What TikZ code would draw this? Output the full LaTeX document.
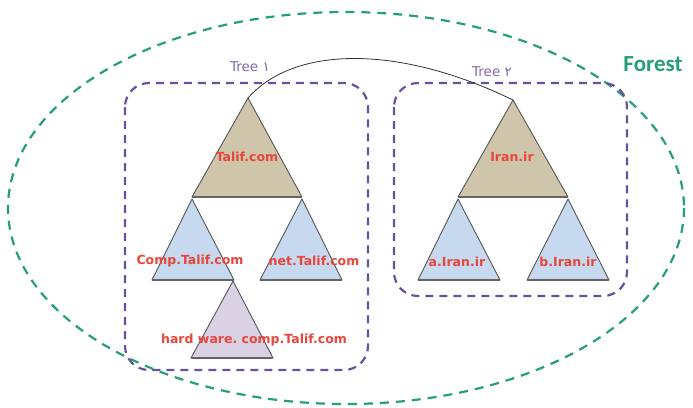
\documentclass[tikz,border=0pt]{standalone}
\usepackage{fontspec}
\setmainfont{Carlito}
\newfontfamily\dejavu{DejaVu Sans}
\frenchspacing
\definecolor{forestgreen}{RGB}{38,160,115}
\definecolor{boxpurple}{RGB}{105,80,160}
\definecolor{tanfill}{RGB}{206,197,170}
\definecolor{bluefill}{RGB}{198,217,238}
\definecolor{lavfill}{RGB}{218,210,228}
\definecolor{labred}{RGB}{232,70,58}
\definecolor{edgegray}{RGB}{85,85,85}
\definecolor{basegray}{RGB}{100,100,100}
\begin{document}
\begin{tikzpicture}[x=1pt,y=-1pt,
  forestline/.style={draw=forestgreen,line width=2.2pt,dash pattern=on 9pt off 7pt},
  treebox/.style={draw=boxpurple,line width=2.2pt,dash pattern=on 8pt off 6pt,rounded corners=24pt},
  tri/.style={draw=edgegray,line width=0.9pt,line join=round},
  basel/.style={draw=basegray,line width=2pt},
  lab/.style={text=labred,font=\dejavu\bfseries\fontsize{12.5}{13}\selectfont,inner sep=0pt},
  treelab/.style={text=boxpurple!85,font=\dejavu\fontsize{13.5}{14}\selectfont,inner sep=0pt}]
\useasboundingbox (0,0) rectangle (693,407);
\fill[white] (0,0) rectangle (693,407);
% forest ellipse
\draw[forestline] (346,208) ellipse [x radius=338,y radius=196];
\node[text=forestgreen,font=\bfseries\fontsize{23}{24}\selectfont,inner sep=0pt] (forest) at (653,64) {Forest};
% tree boxes
\draw[treebox] (125,83) rectangle (368,370);
\draw[treebox] (394,83) rectangle (627,296);
\node[treelab] (t1) at (250,67) {Tree ۱};
\node[treelab] (t2) at (492,72) {Tree ۲};
% apex coordinates
\coordinate (a1) at (248,98);
\coordinate (a2) at (513,100);
% Tree 1
\filldraw[tri,fill=tanfill] (a1) -- (302,197) -- (192,197) -- cycle;
\draw[basel] (192,197) -- (302,197);
\filldraw[tri,fill=bluefill] (192,199) -- (234,280) -- (152,280) -- cycle;
\draw[basel] (152,280) -- (234,280);
\filldraw[tri,fill=bluefill] (302,199) -- (342,280) -- (260,280) -- cycle;
\draw[basel] (260,280) -- (342,280);
\filldraw[tri,fill=lavfill] (233,281) -- (273,358) -- (191,358) -- cycle;
\draw[basel] (191,358) -- (273,358);
\node[lab] (n1) at (247,157) {Talif.com};
\node[lab] (n2) at (190,261) {Comp.Talif.com};
\node[lab] (n3) at (314,261) {net.Talif.com};
\node[lab] (n4) at (254,340) {hard ware. comp.Talif.com};
% Tree 2
\filldraw[tri,fill=tanfill] (a2) -- (568,197) -- (458,197) -- cycle;
\draw[basel] (458,197) -- (568,197);
\filldraw[tri,fill=bluefill] (458,199) -- (500,280) -- (418,280) -- cycle;
\draw[basel] (418,280) -- (500,280);
\filldraw[tri,fill=bluefill] (568,199) -- (609,280) -- (527,280) -- cycle;
\draw[basel] (527,280) -- (609,280);
\node[lab] (m1) at (512,157) {Iran.ir};
\node[lab] (m2) at (457,262) {a.Iran.ir};
\node[lab] (m3) at (568,262) {b.Iran.ir};
% connector
\draw[black!80,line width=0.8pt] (a1) .. controls (295,45) and (400,45) .. (a2);
\end{tikzpicture}
\end{document}
